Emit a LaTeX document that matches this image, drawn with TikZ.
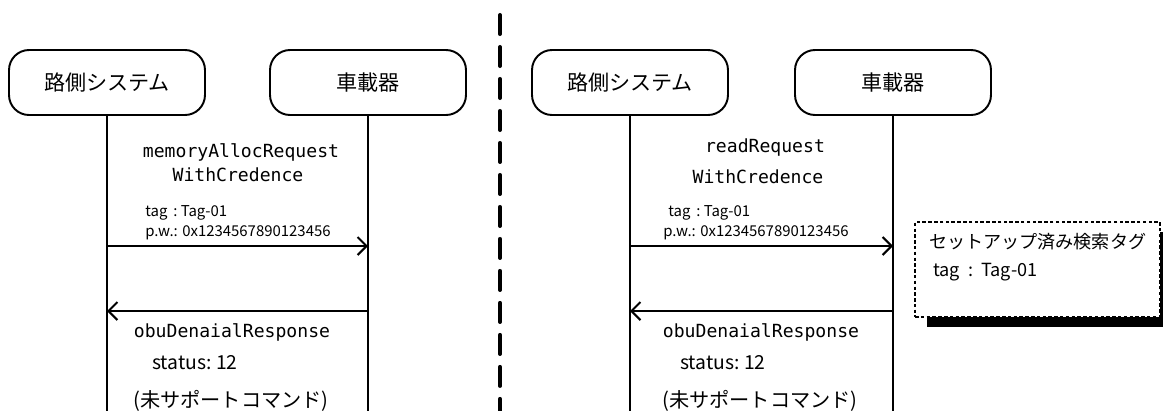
\documentclass[tikz,border=0pt]{standalone}
\usepackage{fontspec}
\setmainfont{Noto Sans CJK JP}
\setmonofont{DejaVu Sans Mono}
\usetikzlibrary{arrows.meta,positioning,calc,shadows}
\tikzset{
    sdActor/.style={
        rectangle,
        draw,
        line width=1.1pt,
        rounded corners=0.4cm,
        minimum width=3.92cm,
        minimum height=1.3cm,
        font=\fontsize{12}{14}\selectfont
    },
    sdNote/.style={
        rectangle,
        draw,
        fill=white,
        dash pattern=on 2pt off 1.3pt,
        line width=1.5pt,
        minimum width=4.9cm,
        minimum height=1.9cm,
        drop shadow={shadow xshift=0.24cm, shadow yshift=-0.2cm, fill=black, opacity=1}
    },
    % Lines and arrows
    sdLife/.style={line width=1.1pt},
    sdMsg/.style={line width=1.2pt, -{Straight Barb[length=0.18cm, width=0.36cm, line width=1.2pt]}},
    sdDivider/.style={line width=2.3pt, line cap=round, dash pattern=on 0.38cm off 0.26cm},
    % Texts
    sdMsgName/.style={inner sep=0pt, font=\ttfamily\fontsize{10.3}{12}\selectfont},
    sdParam/.style={inner sep=0pt, anchor=west, font=\fontsize{8.5}{10}\selectfont},
    sdStatus/.style={inner sep=0pt, anchor=west, font=\fontsize{11}{13}\selectfont},
    sdReason/.style={inner sep=0pt, font=\fontsize{11.5}{13}\selectfont},
    sdNoteText/.style={inner sep=0pt, font=\fontsize{10.3}{12}\selectfont}
}

\begin{document}
\begin{tikzpicture}[x=0.02cm, y=-0.02cm]
\useasboundingbox (0,0) rectangle (1163,410);
\clip (0,0) rectangle (1163,410);

% rows
\coordinate (rowReq) at (0,246);
\coordinate (rowRsp) at (0,311);
\coordinate (rowEnd) at (0,412);

% divider
\coordinate (divTop) at (500,15);
\coordinate (divBot) at (500,412);
\draw[sdDivider] (divTop) -- (divBot);

% ---- left: memoryAllocRequest ----
\node[sdActor] (rsuA) at (107,82.5) {路側システム};
\node[sdActor] (obuA) at (368,82.5) {車載器};
\draw[sdLife] (rsuA.south) -- (rsuA |- rowEnd);
\draw[sdLife] (obuA.south) -- (obuA |- rowEnd);

\node[sdMsgName] (reqA) at (241,152) {memoryAllocRequest};
\node[sdMsgName] (credA) at (238,175) {WithCredence};
\node[sdParam] (tagA) at (145,213) {tag\,\ :\ Tag-01};
\node[sdParam] (pwA) at (145,233) {p.w.: 0x1234567890123456};
\draw[sdMsg] (rsuA |- rowReq) -- (obuA |- rowReq);
\draw[sdMsg] (obuA |- rowRsp) -- (rsuA |- rowRsp);
\node[sdMsgName] (rspA) at (232,332) {obuDenaialResponse};
\node[sdStatus] (statA) at (152,363) {status:\ 12};
\node[sdReason] (whyA) at (231,401) {(未サポートコマンド)};

% ---- right: readRequest ----
\node[sdActor] (rsuB) at (630,82.5) {路側システム};
\node[sdActor] (obuB) at (893,82.5) {車載器};
\draw[sdLife] (rsuB.south) -- (rsuB |- rowEnd);
\draw[sdLife] (obuB.south) -- (obuB |- rowEnd);

\node[sdMsgName] (reqB) at (765,148) {readRequest};
\node[sdMsgName] (credB) at (758,177) {WithCredence};
\node[sdParam] (tagB) at (668,213) {tag\,\ :\ Tag-01};
\node[sdParam] (pwB) at (663,233) {p.w.: 0x1234567890123456};
\draw[sdMsg] (rsuB |- rowReq) -- (obuB |- rowReq);
\draw[sdMsg] (obuB |- rowRsp) -- (rsuB |- rowRsp);
\node[sdMsgName] (rspB) at (761,332) {obuDenaialResponse};
\node[sdStatus] (statB) at (680,363) {status:\ 12};
\node[sdReason] (whyB) at (760,401) {(未サポートコマンド)};

% tag that is set up
\node[sdNote] (tagNote) at (1037.5,269.5) {};
\node[sdNoteText, below right=0.24cm and 0.3cm of tagNote.north west] (noteTitle) {セットアップ済み検索タグ};
\node[sdNoteText, anchor=west] (noteTag) at (933,272) {tag\ \ :\ \ Tag-01};
\end{tikzpicture}
\end{document}
